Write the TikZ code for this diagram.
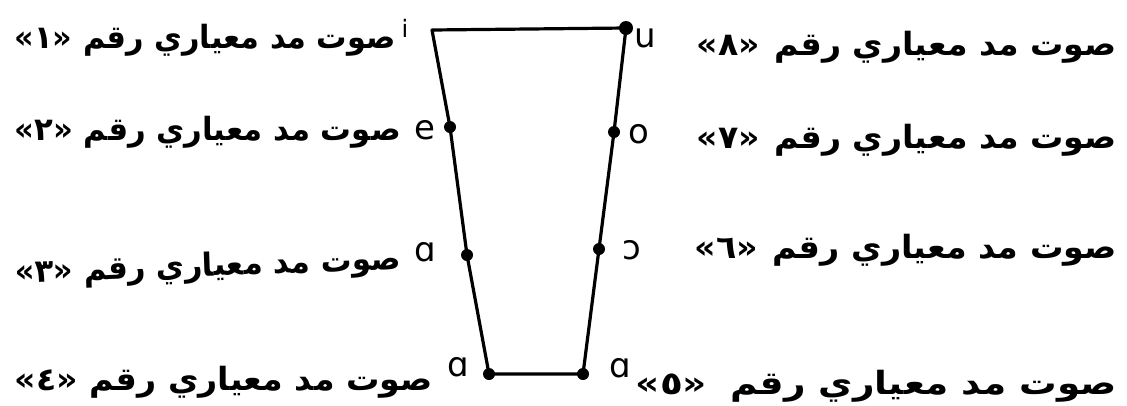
\documentclass[tikz,border=0pt]{standalone}
\usepackage{fontspec}
\usepackage{graphicx}
\TeXXeTstate=1
\newfontfamily\arabicfont[Script=Arabic]{DejaVu Sans}
\newfontfamily\ipafont{DejaVu Sans}
\newcommand{\farsilab}[3]{\resizebox{#1}{\height}{«#2»#3\beginR صوت مد معياري رقم\endR}}
\begin{document}
\begin{tikzpicture}[x=1pt,y=-1pt,
  edge/.style={line width=3.2pt, line join=round, line cap=round},
  vdot/.style={circle, fill=black, inner sep=0pt, minimum size=12pt},
  lbl/.style={font=\arabicfont\bfseries\fontsize{32}{32}\selectfont, inner sep=0pt},
  ipa/.style={font=\ipafont\fontsize{34}{34}\selectfont, inner sep=0pt}]
\useasboundingbox (0,0) rectangle (1127,405);
% corners and vowel points
\coordinate (tl) at (432,30);
\node[vdot, minimum size=14pt] (tr) at (626,28) {};
\node[vdot] (pe) at (450,127) {};
\node[vdot] (po) at (614,132) {};
\node[vdot] (pa) at (467,255) {};
\node[vdot] (pc) at (599,249) {};
\node[vdot] (bl) at (489,374) {};
\node[vdot] (br) at (583,374) {};
\draw[edge] (tl) -- (tr.center) -- (po.center) -- (pc.center) -- (br.center)
  -- (bl.center) -- (pa.center) -- (pe.center) -- cycle;
% vowel symbols
\node[ipa] (si) at (405,28) {\fontsize{24}{24}\selectfont i};
\node[ipa] (se) at (425,130) {e};
\node[ipa] (sa3) at (425,252) {ɑ};
\node[ipa] (sa4) at (458,367) {ɑ};
\node[ipa] (su) at (645,38) {u};
\node[ipa] (so) at (639,134) {o};
\node[ipa] (sc) at (632,250) {ɔ};
\node[ipa] (sa5) at (620,368) {ɑ};
% labels
\node[lbl, anchor=east] (t1) at (396,40) {\farsilab{381pt}{١}{ }};
\node[lbl, anchor=east] (t2) at (401,132) {\farsilab{386pt}{٢}{ }};
\node[lbl, anchor=east, rotate=2] (t3) at (401,261) {\farsilab{386pt}{٣}{ }};
\node[lbl, anchor=east] (t4) at (433,382) {\farsilab{418pt}{٤}{ }};
\node[lbl, anchor=east] (t8) at (1117,47) {\farsilab{420pt}{٨}{\hspace{14pt}}};
\node[lbl, anchor=east] (t7) at (1117,140) {\farsilab{420pt}{٧}{\hspace{14pt}}};
\node[lbl, anchor=east] (t6) at (1117,250) {\farsilab{422pt}{٦}{\hspace{14pt}}};
\node[lbl, anchor=east] (t5) at (1117,386) {\farsilab{481pt}{٥}{\hspace{20pt}}};
\end{tikzpicture}
\end{document}
